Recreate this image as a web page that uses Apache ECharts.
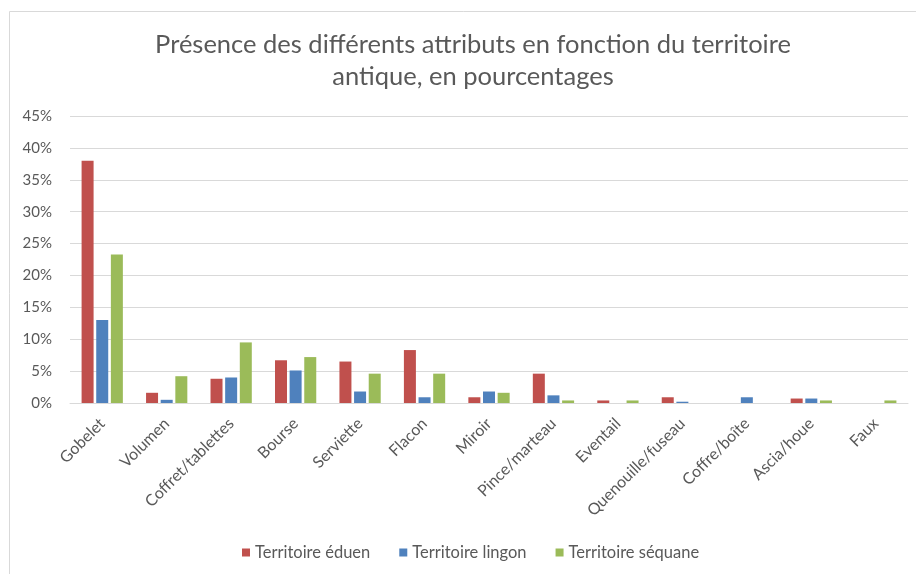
<!DOCTYPE html>
<html>
<head>
<meta charset="utf-8">
<script src="https://cdn.jsdelivr.net/npm/echarts@6/dist/echarts.min.js"></script>
<style>
  html, body { margin: 0; padding: 0; background: #fff; }
  #chart { width: 916px; height: 574px; }
</style>
</head>
<body>
<div id="chart"></div>
<script>
// categories and values (percent)
var categories = ['Gobelet', 'Volumen', 'Coffret/tablettes', 'Bourse', 'Serviette', 'Flacon', 'Miroir',
  'Pince/marteau', 'Eventail', 'Quenouille/fuseau', 'Coffre/boîte', 'Ascia/houe', 'Faux'];
var eduen   = [38.0, 1.6, 3.8, 6.7, 6.5, 8.3, 0.9, 4.6, 0.4, 0.9, 0, 0.7, 0];
var lingon  = [13.0, 0.5, 4.0, 5.1, 1.8, 0.9, 1.8, 1.2, 0, 0.2, 0.9, 0.7, 0];
var sequane = [23.3, 4.2, 9.5, 7.2, 4.6, 4.6, 1.6, 0.4, 0.4, 0, 0, 0.4, 0.4];
var yTicks = { min: 0, max: 45, interval: 5 };

var font = 'Lato, "Open Sans", sans-serif';
var chart = echarts.init(document.getElementById('chart'));

function bar(name, data, color) {
  return {
    name: name,
    type: 'bar',
    data: data,
    barWidth: 12,
    barGap: '22%',
    itemStyle: { color: color },
    emphasis: { disabled: true }
  };
}

var option = {
  animation: false,
  textStyle: { fontFamily: font },
  title: {
    text: 'Présence des différents attributs en fonction du territoire\nantique, en pourcentages',
    left: 468,
    textAlign: 'center',
    top: 24,
    textStyle: { fontFamily: font, fontSize: 25.5, fontWeight: 'normal', color: '#595959', lineHeight: 32 }
  },
  graphic: [{
    type: 'rect',
    shape: { x: 9.5, y: 11.5, width: 930, height: 600 },
    style: { fill: 'none', stroke: '#d9d9d9', lineWidth: 1 },
    silent: true
  }],
  legend: {
    top: 539,
    left: 237,
    icon: 'rect',
    itemWidth: 8,
    itemHeight: 8,
    itemGap: 29,
    textStyle: { fontFamily: font, fontSize: 16.5, color: '#595959' }
  },
  grid: { left: 70, right: 8, top: 116, bottom: 171 },
  xAxis: {
    type: 'category',
    data: categories,
    axisLine: { lineStyle: { color: '#d9d9d9' } },
    axisTick: { show: false },
    axisLabel: { interval: 0, rotate: 45, margin: 18, fontSize: 16, color: '#595959', fontFamily: font }
  },
  yAxis: {
    type: 'value',
    min: yTicks.min,
    max: yTicks.max,
    interval: yTicks.interval,
    axisLine: { show: false },
    axisTick: { show: false },
    axisLabel: { formatter: '{value}%', fontSize: 15, color: '#595959', margin: 18, fontFamily: font },
    splitLine: { lineStyle: { color: '#d9d9d9' } }
  },
  series: [
    bar('Territoire éduen', eduen, '#C0504D'),
    bar('Territoire lingon', lingon, '#4F81BD'),
    bar('Territoire séquane', sequane, '#9BBB59')
  ]
};
chart.setOption(option);
</script>
</body>
</html>
